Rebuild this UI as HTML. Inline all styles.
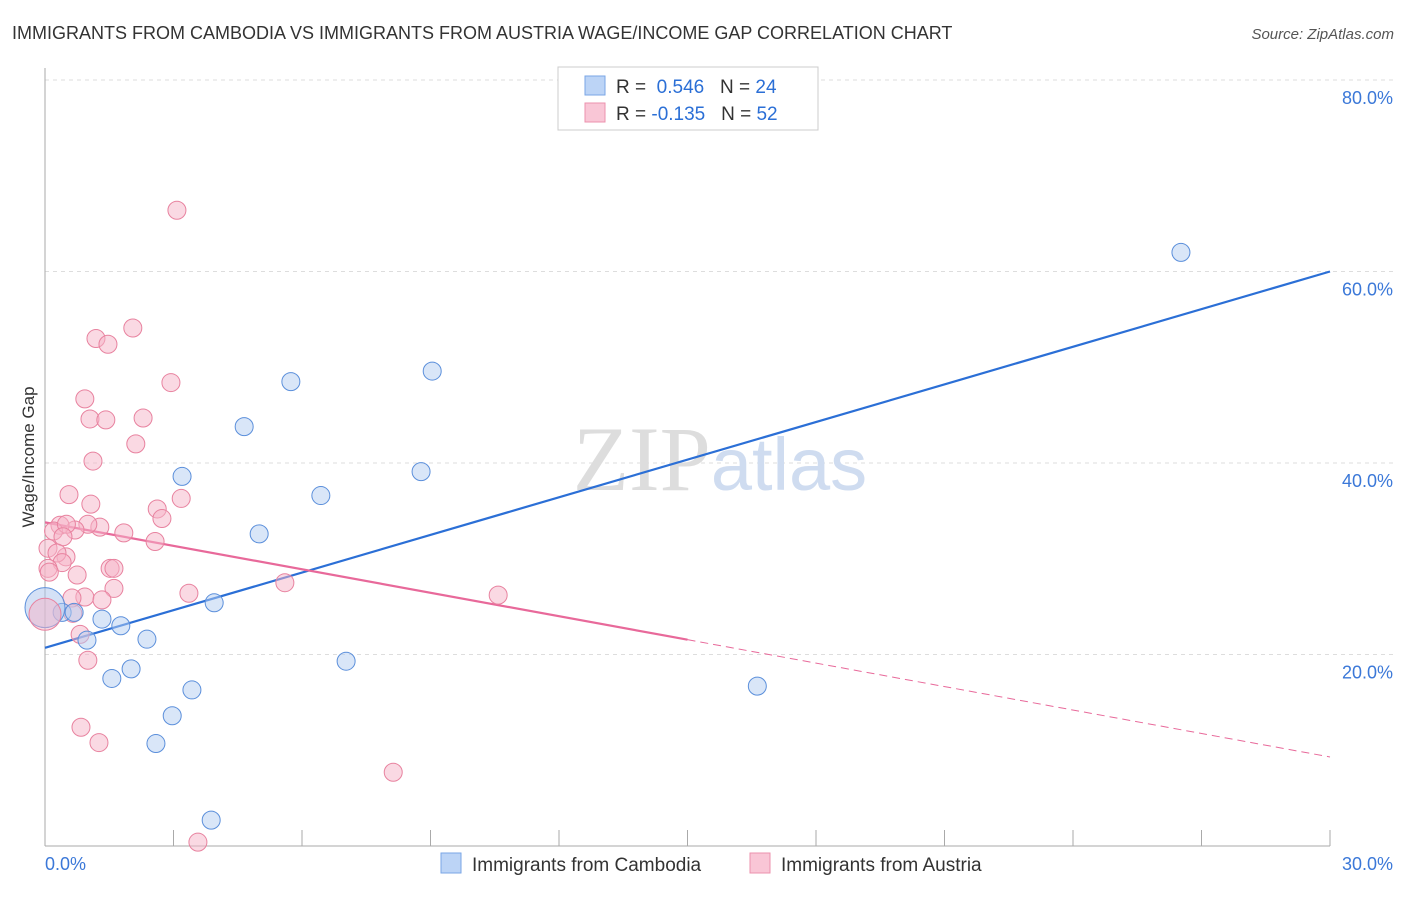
<!DOCTYPE html>
<html><head><meta charset="utf-8"><style>
body{margin:0;background:#fff;font-family:"Liberation Sans",sans-serif;}
</style></head><body>
<svg width="1406" height="892" xmlns="http://www.w3.org/2000/svg" font-family="Liberation Sans, sans-serif">
<text x="12" y="39" font-size="18" fill="#333">IMMIGRANTS FROM CAMBODIA VS IMMIGRANTS FROM AUSTRIA WAGE/INCOME GAP CORRELATION CHART</text>
<text x="1394" y="39" font-size="15" fill="#555" text-anchor="end" font-style="italic">Source: ZipAtlas.com</text>
<g id="grid"></g>
<text x="720" y="490" font-size="92" text-anchor="middle"><tspan fill="#ddd" font-family="Liberation Serif, serif">ZIP</tspan><tspan fill="#cfdcf0" font-size="74">atlas</tspan></text>
<line x1="45" y1="68" x2="45" y2="846" stroke="#aaa"/>
<line x1="45" y1="846" x2="1330" y2="846" stroke="#aaa"/>
<text transform="translate(34,457) rotate(-90)" font-size="17" fill="#333" text-anchor="middle">Wage/Income Gap</text>
<g id="ticks"></g>
<g id="lines"></g>
<g id="points"></g>
<g>
<rect x="558" y="67" width="260" height="63" fill="#fff" stroke="#ccc"/>
<rect x="585" y="76" width="20" height="19" fill="#bcd4f6" stroke="#7aa6e6"/>
<rect x="585" y="103" width="20" height="19" fill="#f9c6d6" stroke="#ec91ad"/>
<text x="616" y="93" font-size="19" fill="#333">R = <tspan fill="#2b6fd6">&#160;0.546</tspan>&#160;&#160;&#160;N = <tspan fill="#2b6fd6">24</tspan></text>
<text x="616" y="120" font-size="19" fill="#333">R = <tspan fill="#2b6fd6">-0.135</tspan>&#160;&#160;&#160;N = <tspan fill="#2b6fd6">52</tspan></text>
</g>
<g>
<rect x="441" y="853" width="20" height="20" fill="#bcd4f6" stroke="#7aa6e6"/>
<text x="472" y="871" font-size="19" fill="#333">Immigrants from Cambodia</text>
<rect x="750" y="853" width="20" height="20" fill="#f9c6d6" stroke="#ec91ad"/>
<text x="781" y="871" font-size="19" fill="#333">Immigrants from Austria</text>
</g>
</svg>
<script>
const yTicks=[20,40,60,80];
const yTickLabels=["20.0%","40.0%","60.0%","80.0%"];
const xTickLabels=["0.0%","30.0%"];
const cambodiaX=[26.52,9.04,5.74,4.65,3.20,8.78,6.44,5.00,3.95,1.33,1.77,0.40,0.68,0.98,2.38,2.01,1.56,7.03,3.43,16.63,2.97,2.59,3.88];
const cambodiaY=[62.0,49.6,48.5,43.8,38.6,39.1,36.6,32.6,25.4,23.7,23.0,24.4,24.4,21.5,21.6,18.5,17.5,19.3,16.3,16.7,13.6,10.7,2.7];
const austriaX=[3.08,2.05,1.19,1.47,2.94,0.93,1.05,1.42,2.29,2.12,1.12,0.56,1.07,3.18,2.62,2.73,2.57,1.84,1.28,1.0,0.7,0.35,0.2,0.5,0.42,0.07,0.49,0.28,0.40,0.07,0.1,0.75,1.52,1.61,1.61,0.93,0.63,1.33,3.36,5.60,10.58,0.65,0.82,1.0,0.84,1.26,3.57,8.13];
const austriaY=[66.4,54.1,53.0,52.4,48.4,46.7,44.6,44.5,44.7,42.0,40.2,36.7,35.7,36.3,35.2,34.2,31.8,32.7,33.3,33.6,33.0,33.5,32.9,33.6,32.3,31.1,30.2,30.6,29.6,29.0,28.6,28.3,29.0,29.0,26.9,26.0,25.9,25.7,26.4,27.5,26.2,24.3,22.1,19.4,12.4,10.8,0.4,7.7];
const bigPointsX=[0,0]; const bigPointsY=[24.9,24.2];
const cambodiaTrend=[20.7,60.0];
const austriaTrend=[33.8,9.3];
const austriaSolidEnd=15.0;
const NS="http://www.w3.org/2000/svg";
const sx=v=>45+v/30*1285, sy=v=>846-v/20*191.5;
function mk(tag,attrs,parent){const e=document.createElementNS(NS,tag);for(const k in attrs)e.setAttribute(k,attrs[k]);document.getElementById(parent).appendChild(e);return e;}
yTicks.forEach((t,i)=>{
 const g=mk('line',{x1:45,x2:1394,y1:sy(t),y2:sy(t),stroke:'#ddd','stroke-dasharray':'4,4'},'grid');
 
 
 const l=mk('text',{x:1393,y:sy(t)+24,'font-size':18,fill:'#3b78d8','text-anchor':'end'},'ticks');
 l.textContent=yTickLabels[i];
 
 
});
for(let i=0;i<=10;i++){
 const t=mk('line',{x1:sx(i*3),x2:sx(i*3),y1:830,y2:846,stroke:'#aaa'},'ticks');
 
 
}
[[0,'start',45],[1,'end',1393]].forEach(([i,a,x])=>{
 const l=mk('text',{x:x,y:870,'font-size':18,fill:'#3b78d8','text-anchor':a},'ticks');
 l.textContent=xTickLabels[i];
 
 
});
function pts(X,Y,fill,stroke,r,name){X.forEach((x,i)=>{
 const c=mk('circle',{cx:sx(x),cy:sy(Y[i]),r:r,fill:fill,stroke:stroke,'stroke-width':1,'fill-opacity':0.5},'points');
 
 
});}
pts(austriaX,austriaY,'#f6b3c8','#e8829f',9,'austria-point');
pts(cambodiaX,cambodiaY,'#b3cdf2','#5b8fdb',9,'cambodia-point');
const bc=mk('circle',{cx:sx(bigPointsX[0]),cy:sy(bigPointsY[0]),r:20,fill:'#a9c4ee','fill-opacity':0.5,stroke:'#5b8fdb'},'points');


const ba=mk('circle',{cx:sx(bigPointsX[1]),cy:sy(bigPointsY[1]),r:16,fill:'#f6b3c8','fill-opacity':0.5,stroke:'#e8829f'},'points');


const bl=mk('line',{x1:sx(0),y1:sy(cambodiaTrend[0]),x2:sx(30),y2:sy(cambodiaTrend[1]),stroke:'#2b6fd6','stroke-width':2.2},'lines');


const pe=austriaTrend[0]+(austriaTrend[1]-austriaTrend[0])*austriaSolidEnd/30;
const pl=mk('line',{x1:sx(0),y1:sy(austriaTrend[0]),x2:sx(austriaSolidEnd),y2:sy(pe),stroke:'#e8699a','stroke-width':2.2},'lines');


const pd=mk('line',{x1:sx(austriaSolidEnd),y1:sy(pe),x2:sx(30),y2:sy(austriaTrend[1]),stroke:'#e8699a','stroke-width':1,'stroke-dasharray':'8,5'},'lines');


</script>
</body></html>
